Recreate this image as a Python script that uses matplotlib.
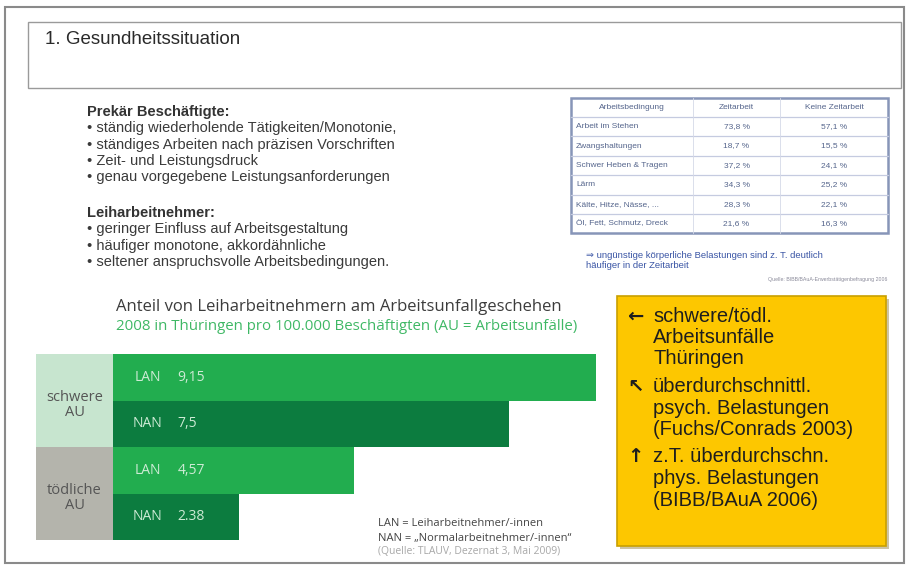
import matplotlib.pyplot as plt
from matplotlib.patches import Rectangle

# --- data ---
bar_labels = ["LAN", "NAN", "LAN", "NAN"]
bar_values = [9.15, 7.5, 4.57, 2.38]
value_texts = ["9,15", "7,5", "4,57", "2.38"]
group_labels = ["schwere\nAU", "tödliche\nAU"]

prekaer = ["• ständig wiederholende Tätigkeiten/Monotonie,",
           "• ständiges Arbeiten nach präzisen Vorschriften",
           "• Zeit- und Leistungsdruck",
           "• genau vorgegebene Leistungsanforderungen"]
leih = ["• geringer Einfluss auf Arbeitsgestaltung",
        "• häufiger monotone, akkordähnliche",
        "• seltener anspruchsvolle Arbeitsbedingungen."]

table_header = ["Arbeitsbedingung", "Zeitarbeit", "Keine Zeitarbeit"]
conditions = ["Arbeit im Stehen", "Zwangshaltungen", "Schwer Heben & Tragen",
              "Lärm", "Kälte, Hitze, Nässe, ...", "Öl, Fett, Schmutz, Dreck"]
zeitarbeit = ["73,8 %", "18,7 %", "37,2 %", "34,3 %", "28,3 %", "21,6 %"]
keine_zeitarbeit = ["57,1 %", "15,5 %", "24,1 %", "25,2 %", "22,1 %", "16,3 %"]

box_lines = [("←", ["schwere/tödl.", "Arbeitsunfälle", "Thüringen"]),
             ("↖", ["überdurchschnittl.", "psych. Belastungen", "(Fuchs/Conrads 2003)"]),
             ("↑", ["z.T. überdurchschn.", "phys. Belastungen", "(BIBB/BAuA 2006)"])]

W, H = 908, 570
fig = plt.figure(figsize=(W / 100, H / 100), dpi=100)
fig.patch.set_facecolor("white")


def px(x0, y0, x1, y1):
    return [x0 / W, 1 - y1 / H, (x1 - x0) / W, (y1 - y0) / H]


bg = fig.add_axes([0, 0, 1, 1])
bg.set_xlim(0, W)
bg.set_ylim(H, 0)
bg.axis("off")

sans = ["Liberation Sans", "DejaVu Sans"]
opens = ["Open Sans", "DejaVu Sans"]

# slide frame and title box
bg.add_patch(Rectangle((5, 7), 899, 556, fill=False, ec="#8a8a8a", lw=1.5))
bg.add_patch(Rectangle((28, 22), 873, 66, fill=False, ec="#9a9a9a", lw=1.0))
bg.text(45, 40, "1. Gesundheitssituation", fontsize=13.5, family=sans,
        color="#2a2a2a", va="center")

# left text block
y = 112
bg.text(87, y, "Prekär Beschäftigte:", fontsize=10.5, family=sans,
        weight="bold", color="#333333", va="center")
for line in prekaer:
    y += 16.3
    bg.text(87, y, line, fontsize=10.5, family=sans, color="#3a3a3a", va="center")
y = 213
bg.text(87, y, "Leiharbeitnehmer:", fontsize=10.5, family=sans,
        weight="bold", color="#333333", va="center")
for line in leih:
    y += 16.3
    bg.text(87, y, line, fontsize=10.5, family=sans, color="#3a3a3a", va="center")

# table
tx0, tx1 = 571, 888
col_x = [571, 693, 780, 888]
row_y = [98, 117, 136, 156, 175, 195, 214, 233]
tcol = "#55658c"
fs_t = 6
bg.add_patch(Rectangle((tx0, row_y[0]), tx1 - tx0, row_y[-1] - row_y[0],
                       fill=False, ec="#8795b8", lw=1.8))
for yy in row_y[1:-1]:
    bg.plot([tx0, tx1], [yy, yy], color="#c5cbe0", lw=0.9)
for xx in col_x[1:-1]:
    bg.plot([xx, xx], [row_y[0], row_y[-1]], color="#d5d9e8", lw=0.6)
ty = (row_y[0] + row_y[1]) / 2
for j, hdr in enumerate(table_header):
    bg.text((col_x[j] + col_x[j + 1]) / 2, ty, hdr, fontsize=fs_t,
            family=sans, color=tcol, ha="center", va="center")
for i, (c, z, k) in enumerate(zip(conditions, zeitarbeit, keine_zeitarbeit)):
    ry = (row_y[i + 1] + row_y[i + 2]) / 2
    bg.text(col_x[0] + 5, ry, c, fontsize=fs_t, family=sans, color=tcol, va="center")
    bg.text((col_x[1] + col_x[2]) / 2, ry, z, fontsize=fs_t, family=sans,
            color=tcol, ha="center", va="center")
    bg.text((col_x[2] + col_x[3]) / 2, ry, k, fontsize=fs_t, family=sans,
            color=tcol, ha="center", va="center")
bg.text(586, 255, "⇒ ungünstige körperliche Belastungen sind z. T. deutlich",
        fontsize=6.8, family=sans, color="#3a55a5", va="center")
bg.text(586, 266, "häufiger in der Zeitarbeit", fontsize=6.8, family=sans,
        color="#3a55a5", va="center")
bg.text(887, 279, "Quelle: BIBB/BAuA-Erwerbstätigenbefragung 2006", fontsize=3.8,
        family=sans, color="#8a8a9a", ha="right", va="center")

# chart title
bg.text(116, 307, "Anteil von Leiharbeitnehmern am Arbeitsunfallgeschehen",
        fontsize=12, family=opens, color="#3c3c3c", va="center")
bg.text(116, 327, "2008 in Thüringen pro 100.000 Beschäftigten (AU = Arbeitsunfälle)",
        fontsize=10.8, family=opens, color="#3fb865", va="center")

# bar chart
label_w = 1.46
ax = fig.add_axes(px(36, 354, 596, 540))
ax.set_xlim(-label_w, 9.15)
ax.set_ylim(3.5, -0.5)
ax.axis("off")
ax.barh([0.5, 2.5], [label_w, label_w], left=-label_w, height=2.0,
        color=["#c7e5cf", "#b4b4ac"], edgecolor="none")
for yg, g in zip([0.5, 2.5], group_labels):
    ax.text(-label_w / 2, yg + 0.1, g, fontsize=10.5, family=opens,
            color="#555555", ha="center", va="center", linespacing=1.05)
colors = ["#22ad4f" if l == "LAN" else "#0c7c3f" for l in bar_labels]
ax.barh(range(len(bar_values)), bar_values, height=1.0, color=colors,
        edgecolor="none")
for i, (l, v) in enumerate(zip(bar_labels, value_texts)):
    ax.text(0.66, i, l, fontsize=10, family=opens,
            color="#cdebd5", ha="center", va="center")
    ax.text(1.22, i, v, fontsize=10, family=opens,
            color="#cdebd5", ha="left", va="center")

# legend notes
bg.text(378, 523, "LAN = Leiharbeitnehmer/-innen", fontsize=8,
        family=opens, color="#444444", va="center")
bg.text(378, 538, "NAN = „Normalarbeitnehmer/-innen“", fontsize=8,
        family=opens, color="#444444", va="center")
bg.text(378, 552, "(Quelle: TLAUV, Dezernat 3, Mai 2009)", fontsize=7.5,
        family=opens, color="#a8a8a8", va="center")

# yellow box
bg.add_patch(Rectangle((620, 299), 269, 250, fc="#9a8a50", ec="none", alpha=0.5))
bg.add_patch(Rectangle((617, 296), 269, 250, fc="#fdc700", ec="#c9a000", lw=1.2))
y = 316
for arrow, lines in box_lines:
    bg.text(627, y, arrow, fontsize=14, family=["DejaVu Sans"],
            color="#1e1e1e", va="center", weight="bold")
    for line in lines:
        bg.text(653, y, line, fontsize=14.5, family=sans, color="#1e1e1e",
                va="center")
        y += 21.5
    y += 6

fig.savefig("out.png", dpi=100)
